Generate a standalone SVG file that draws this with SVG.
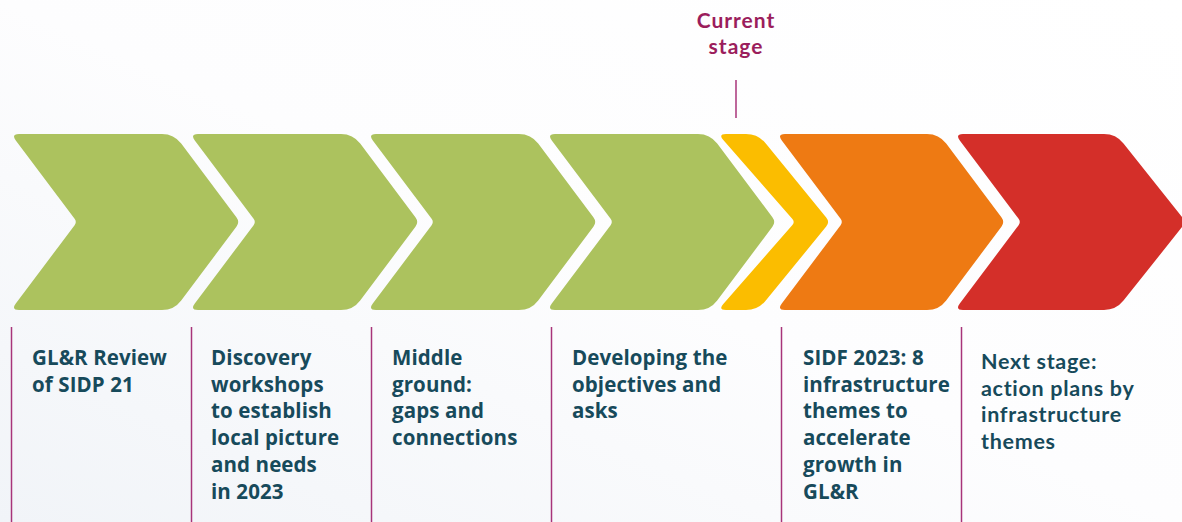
<svg xmlns="http://www.w3.org/2000/svg" width="1182" height="522" viewBox="0 0 1182 522">
<defs>
<linearGradient id="bg" x1="0" y1="1" x2="1" y2="0">
<stop offset="0" stop-color="#F1F4F8"/>
<stop offset="0.5" stop-color="#FDFDFE"/>
<stop offset="1" stop-color="#FFFFFF"/>
</linearGradient>
<path id="gch" d="M4.8,140.4 Q0,134 8,134 H151 Q163,134 170.2,143.6 L225.4,217.2 Q229,222 225.4,226.8 L170.2,300.4 Q163,310 151,310 H8 Q0,310 4.8,303.6 L63.6,225.2 Q66,222 63.6,218.8 Z"/>
</defs>
<style>
.green{fill:#ACC25E}
.yellow{fill:#FBBD00}
.orange{fill:#EE7A13}
.red{fill:#D42F29}
.lbl{font-family:"Open Sans","Liberation Sans",sans-serif;font-weight:700;font-size:20.5px;fill:#174A5B;letter-spacing:0.1px}
.lbl2{font-family:Lato,"Open Sans","Liberation Sans",sans-serif;font-weight:700;font-size:21.5px;fill:#174A5B;letter-spacing:0.7px}
.cur{font-family:Lato,"Open Sans","Liberation Sans",sans-serif;font-weight:700;font-size:21px;fill:#9B1D5C;letter-spacing:1px}
.sep{stroke:#A8347A;stroke-width:1.5;fill:none}
</style>
<rect width="1182" height="522" fill="url(#bg)"/>

<g id="connectors">
<line class="sep" x1="736" y1="80" x2="736" y2="118" stroke="#B5528C"/>
<line class="sep" x1="11.5" y1="327" x2="11.5" y2="522"/>
<line class="sep" x1="191.5" y1="327" x2="191.5" y2="522"/>
<line class="sep" x1="371.5" y1="327" x2="371.5" y2="522"/>
<line class="sep" x1="551.5" y1="327" x2="551.5" y2="522"/>
<line class="sep" x1="781.5" y1="327" x2="781.5" y2="522"/>
<line class="sep" x1="961.5" y1="327" x2="961.5" y2="522"/>
</g>

<g id="current-stage">
<text class="cur" text-anchor="middle"><tspan x="736" y="28">Current</tspan><tspan x="736" y="54">stage</tspan></text>
</g>

<g id="stage1">
<use href="#gch" class="green" transform="translate(11,0)"/>
<text class="lbl"><tspan x="32" y="365">GL&amp;R Review</tspan><tspan x="32" y="391.7">of SIDP 21</tspan></text>
</g>
<g id="stage2">
<use href="#gch" class="green" transform="translate(190,0)"/>
<text class="lbl"><tspan x="211" y="365">Discovery</tspan><tspan x="211" y="391.7">workshops</tspan><tspan x="211" y="418.4">to establish</tspan><tspan x="211" y="445.1">local picture</tspan><tspan x="211" y="471.8">and needs</tspan><tspan x="211" y="498.5">in 2023</tspan></text>
</g>
<g id="stage3">
<use href="#gch" class="green" transform="translate(368,0)"/>
<text class="lbl"><tspan x="392" y="365">Middle</tspan><tspan x="392" y="391.7">ground:</tspan><tspan x="392" y="418.4">gaps and</tspan><tspan x="392" y="445.1">connections</tspan></text>
</g>
<g id="stage4">
<use href="#gch" class="green" transform="translate(547,0)"/>
<text class="lbl"><tspan x="572" y="365">Developing the</tspan><tspan x="572" y="391.7">objectives and</tspan><tspan x="572" y="418.4">asks</tspan></text>
</g>
<g id="stage-current">
<path class="yellow" d="M723.3,140 Q718,134 726,134 H746 Q758,134 765.6,143.3 L826.2,217.4 Q830,222 826.2,226.6 L765.6,300.7 Q758,310 746,310 H726 Q718,310 723.3,304 L792.4,225 Q795,222 792.4,219 Z"/>
</g>
<g id="stage5">
<path class="orange" d="M781.8,140.4 Q777,134 785,134 H927 Q939,134 946.2,143.6 L1001.4,217.2 Q1005,222 1001.4,226.8 L946.2,300.4 Q939,310 927,310 H785 Q777,310 781.8,303.6 L840.6,225.2 Q843,222 840.6,218.8 Z"/>
<text class="lbl"><tspan x="803" y="365">SIDF 2023: 8</tspan><tspan x="803" y="391.7">infrastructure</tspan><tspan x="803" y="418.4">themes to</tspan><tspan x="803" y="445.1">accelerate</tspan><tspan x="803" y="471.8">growth in</tspan><tspan x="803" y="498.5">GL&amp;R</tspan></text>
</g>
<g id="stage6">
<path class="red" d="M959.8,140.4 Q955,134 963,134 H1104 Q1116,134 1123.5,143.4 L1182.3,217.3 Q1186,222 1182.3,226.7 L1123.5,300.6 Q1116,310 1104,310 H963 Q955,310 959.8,303.6 L1018.6,225.2 Q1021,222 1018.6,218.8 Z"/>
<text class="lbl2"><tspan x="981" y="369">Next stage:</tspan><tspan x="981" y="395.7">action plans by</tspan><tspan x="981" y="422.4">infrastructure</tspan><tspan x="981" y="449.1">themes</tspan></text>
</g>
</svg>
